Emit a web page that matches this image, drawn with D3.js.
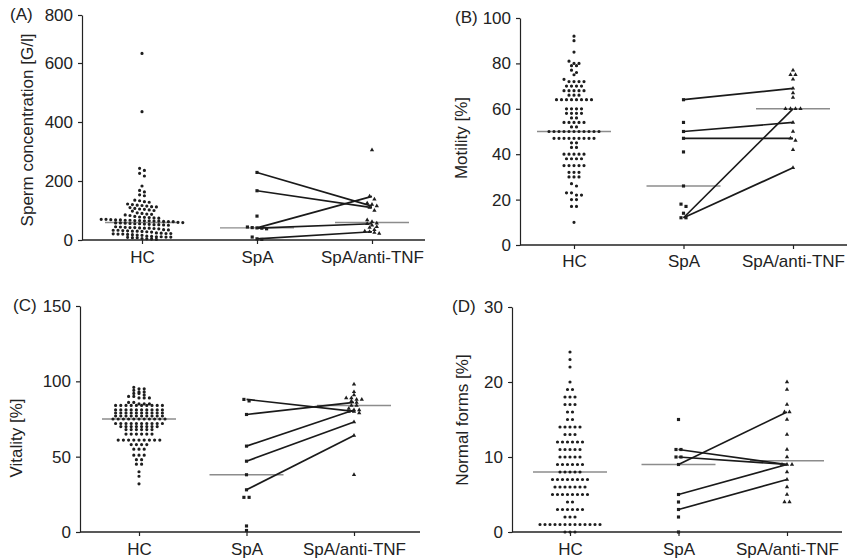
<!DOCTYPE html>
<meta charset="utf-8">
<style>
body { margin: 0; background: #fff; }
text { font-family: "Liberation Sans", Arial, sans-serif; fill: #222; }
.axis path, .axis line { stroke: #222; stroke-width: 1.2; }
.axis text { font-size: 17px; fill: #222; }
.base { stroke: #222; stroke-width: 1.4; }
.median { stroke: #8c8c8c; stroke-width: 1.4; }
.pair { stroke: #1a1a1a; stroke-width: 1.7; fill: none; }
.dot { fill: #1e1e1e; }
</style>
<body>
<script src="https://d3js.org/d3.v7.min.js"></script>
<script>

var groups = ["HC", "SpA", "SpA/anti-TNF"];

// (A) sperm concentration [G/l]
var concHC = [640, 435, 243, 236, 226, 217, 183, 168, 163, 153, 150, 135, 133, 130, 128,
  122, 120, 118, 117, 115, 113, 112, 110, 107, 105, 104, 102, 100, 98, 92, 90, 88, 87, 85, 83,
  80, 78, 77, 76, 75, 74, 70, 70, 69, 68, 68, 67, 67, 66, 66, 65, 65, 64, 64, 63, 62, 62,
  60, 59, 58, 58, 57, 56, 55, 55, 54, 53, 52, 52, 51, 50, 45, 44, 43, 42, 42, 41, 40, 40, 39, 38,
  35, 34, 33, 33, 32, 31, 30, 30, 29, 28, 27, 24, 23, 22, 22, 21, 20, 20, 19, 18, 17, 16,
  13, 12, 11, 11, 10, 10, 9, 8, 8, 5, 4, 3, 2];
var concSpA = [229, 167, 81, 44, 42, 41, 40, 38, 10, 4, 2];
var concTNF = [305, 148, 138, 125, 120, 115, 110, 100, 68, 62, 57, 55, 50, 45, 42, 35, 30, 28, 25, 22];
var concPairs = [[229, 115], [167, 110], [41, 148], [40, 55], [4, 28]];
var concTicks = [0, 200, 400, 600, 800];

// (B) motility [%]
var motHC = [92, 90, 85, 81, 80, 80, 79, 79, 77, 76, 75, 73, 72, 72, 72, 72, 70, 70, 70, 70,
  68, 68, 68, 68, 68, 66, 66, 66, 64, 64, 64, 64, 64, 64, 64, 64, 60, 60, 60, 60, 58, 58, 58, 58,
  56, 56, 54, 54, 54, 54, 54, 52, 52, 50, 50, 50, 50, 50, 50, 50, 50, 50, 50, 50,
  47, 47, 47, 47, 47, 47, 47, 47, 47, 45, 45, 43, 43, 40, 40, 40, 40, 40, 38, 38, 38, 38,
  35, 35, 35, 35, 35, 32, 32, 32, 30, 30, 30, 27, 26, 23, 23, 22, 22, 20, 20, 17, 17, 10];
var motSpA = [64, 54, 50, 47, 41, 26, 18, 17, 14, 12, 12];
var motTNF = [77, 75, 75, 73, 69, 67, 65, 60, 60, 60, 60, 54, 50, 47, 46, 42, 34];
var motPairs = [[64, 69], [50, 54], [47, 47], [12, 60], [12, 34]];
var motTicks = [0, 20, 40, 60, 80, 100];

// (C) vitality [%]
var vitHC = [96, 95, 95, 94, 93, 93, 92, 92, 91, 90, 90, 89, 89, 89, 86, 86, 85, 85, 85,
  84, 84, 84, 84, 84, 84, 84, 84, 84, 84,
  81, 81, 81, 81, 81, 81, 81, 81, 81, 81,
  79, 79, 79, 79, 79, 79, 79, 79, 79, 79,
  77, 77, 77, 77, 77, 77, 77, 77, 77, 77,
  75, 75, 75, 75, 75, 75, 75, 75, 75, 75, 75,
  72, 72, 72, 72, 72, 72, 72, 72, 72, 72,
  70, 70, 70, 70, 70, 70, 70, 70,
  68, 68, 68, 68, 68, 68, 65, 65, 65, 65, 65, 65,
  61, 61, 61, 61, 61, 61, 61, 61, 61, 58, 58, 58, 58,
  55, 55, 55, 51, 51, 51, 48, 48, 45, 45, 40, 37, 32];
var vitSpA = [88, 87, 78, 57, 47, 38, 28, 23, 23, 4, 1];
var vitTNF = [98, 93, 91, 89, 89, 88, 88, 87, 86, 84, 84, 82, 81, 81, 80, 80, 79, 73, 64, 38];
var vitPairs = [[88, 80], [78, 86], [57, 81], [47, 73], [28, 64]];
var vitTicks = [0, 50, 100, 150];

// (D) normal forms [%]
var normHC = [24, 23, 22, 20, 19, 19, 18, 18, 18, 17, 17, 17, 16, 16, 15, 15,
  14, 14, 14, 14, 14, 13, 13, 13, 12, 12, 12, 12, 12, 12, 11, 11, 11, 11, 11,
  10, 10, 10, 10, 10, 9, 9, 9, 9, 9, 9, 8, 8, 8, 8, 8, 7, 7, 7, 7, 7, 7, 7, 7,
  6, 6, 6, 6, 6, 6, 6, 5, 5, 5, 5, 5, 5, 5, 5, 4, 4, 3, 3, 3, 3, 3, 3, 2, 2, 2,
  1, 1, 1, 1, 1, 1, 1, 1, 1, 1, 1, 1, 1, 0, 0, 0];
var normSpA = [15, 11, 11, 10, 10, 9, 5, 4, 3, 2, 0];
var normTNF = [20, 19, 17, 16, 16, 15, 13, 11, 10, 9, 9, 9, 8, 7, 6, 5, 4, 4];
var normPairs = [[9, 16], [11, 9], [10, 9], [5, 9], [3, 7]];
var normTicks = [0, 10, 20, 30];

var panels = [
  { tag: "(A)", title: "Sperm concentration [G/l]", data: [concHC, concSpA, concTNF], pairs: concPairs,
    ticks: concTicks, yDom: [0, 600, 800], yRange: [240, 63, 15], xAxis: 82, xEnd: 425, xPts: [142, 372],
    tagX: 10, titleX: 33, titleY: 130, labPad: 7, gap: 3.4, dx: 4.8 },
  { tag: "(B)", title: "Motility [%]", data: [motHC, motSpA, motTNF], pairs: motPairs,
    ticks: motTicks, yDom: [0, 100], yRange: [245, 18], xAxis: 520, xEnd: 847, xPts: [574, 793],
    tagX: 455, titleX: 467, titleY: 138, labPad: 6, gap: 2.6, dx: 5 },
  { tag: "(C)", title: "Vitality [%]", data: [vitHC, vitSpA, vitTNF], pairs: vitPairs,
    ticks: vitTicks, yDom: [0, 150], yRange: [532, 306], xAxis: 80, xEnd: 420, xPts: [139, 354],
    tagX: 13, titleX: 22, titleY: 438, labPad: 7, gap: 2.6, dx: 5.2 },
  { tag: "(D)", title: "Normal forms [%]", data: [normHC, normSpA, normTNF], pairs: normPairs,
    ticks: normTicks, yDom: [0, 30], yRange: [532, 307], xAxis: 512, xEnd: 842, xPts: [570, 787],
    tagX: 452, titleX: 468, titleY: 420, labPad: 7, gap: 3, dx: 5 }
];

var symbols = [
  d3.symbol().type(d3.symbolCircle).size(8),
  d3.symbol().type(d3.symbolSquare).size(10),
  d3.symbol().type(d3.symbolTriangle).size(8)
];

// place dots in centred rows (column scatter)
function swarm(values, y, cx, dx, gap) {
  var pts = values.map(function(v) { return {v: v, y: y(v)}; })
    .sort(function(a, b) { return a.y - b.y; });
  var rows = [], row = null;
  pts.forEach(function(p) {
    if (!row || p.y - row[0].y > gap) { row = []; rows.push(row); }
    row.push(p);
  });
  rows.forEach(function(r) {
    r.forEach(function(p, i) { p.x = cx + (i - (r.length - 1) / 2) * dx; });
  });
  return pts;
}

var svg = d3.select("body").append("svg")
    .attr("width", 848)
    .attr("height", 559);

panels.forEach(function(p) {
  var g = svg.append("g");

  var y = d3.scaleLinear().domain(p.yDom).range(p.yRange);
  var x = d3.scalePoint().domain(groups).range(p.xPts);
  var y0 = y(0);

  // median lines
  p.data.forEach(function(vals, i) {
    var m = d3.median(vals);
    g.append("line")
        .attr("class", "median")
        .attr("x1", x(groups[i]) - 37)
        .attr("x2", x(groups[i]) + 37)
        .attr("y1", y(m))
        .attr("y2", y(m));
  });

  // paired patients before / after anti-TNF
  g.selectAll(".pair")
      .data(p.pairs)
    .enter().append("line")
      .attr("class", "pair")
      .attr("x1", x("SpA"))
      .attr("x2", x("SpA/anti-TNF"))
      .attr("y1", function(d) { return y(d[0]); })
      .attr("y2", function(d) { return y(d[1]); });

  // dots
  p.data.forEach(function(vals, i) {
    var pts = swarm(vals, y, x(groups[i]), p.dx, p.gap);
    g.selectAll(".dot" + i)
        .data(pts)
      .enter().append("path")
        .attr("class", "dot")
        .attr("transform", function(d) { return "translate(" + d.x + "," + d.y + ")"; })
        .attr("d", symbols[i]);
  });

  // y axis
  g.append("g")
      .attr("class", "axis")
      .attr("transform", "translate(" + p.xAxis + ",0)")
      .call(d3.axisLeft(y).tickValues(p.ticks).tickSize(4).tickSizeOuter(0).tickPadding(5));

  // x axis
  g.append("line")
      .attr("class", "base")
      .attr("x1", p.xAxis)
      .attr("x2", p.xEnd)
      .attr("y1", y0)
      .attr("y2", y0);
  var xa = g.append("g")
      .attr("class", "axis")
      .attr("transform", "translate(0," + y0 + ")")
      .call(d3.axisBottom(x).tickSize(4).tickSizeOuter(0).tickPadding(p.labPad));
  xa.select(".domain").remove();

  // panel tag
  g.append("text")
      .attr("x", p.tagX)
      .attr("y", y(p.ticks[p.ticks.length - 1]))
      .attr("dy", "0.32em")
      .style("font-size", "17px")
      .text(p.tag);

  // y title
  g.append("text")
      .attr("transform", "translate(" + p.titleX + "," + p.titleY + ") rotate(-90)")
      .attr("text-anchor", "middle")
      .style("font-size", "17px")
      .text(p.title);
});

</script>
</body>
